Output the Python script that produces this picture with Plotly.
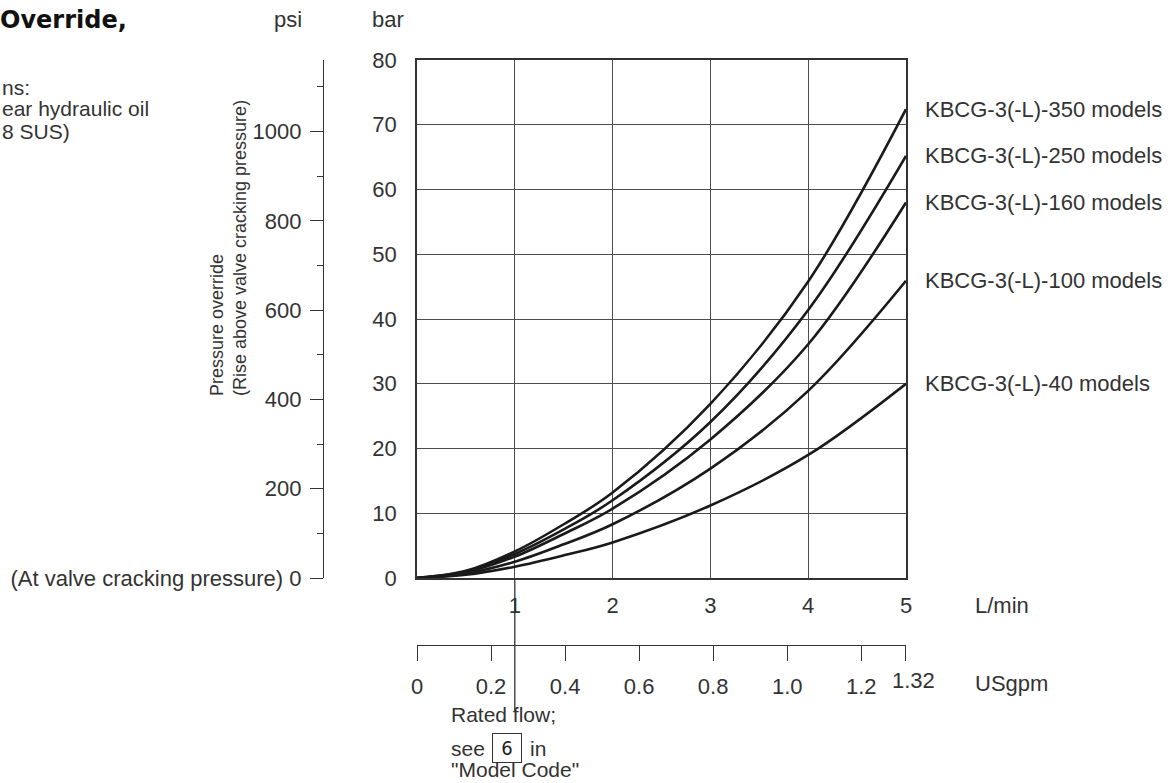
import plotly.graph_objects as go

# ---------------- data ----------------
FLOW_LPM = [0, 0.5, 1, 1.5, 2, 3, 4, 5]
P_350 = [0, 1.1, 4.1, 8.3, 13.2, 26.9, 45.8, 72.4]
P_250 = [0, 1.0, 3.7, 7.5, 12.0, 24.1, 41.4, 65.2]
P_160 = [0, 0.9, 3.3, 6.8, 10.7, 21.4, 36.1, 58.0]
P_100 = [0, 0.7, 2.5, 5.2, 8.3, 16.9, 28.9, 45.9]
P_40 = [0, 0.5, 1.75, 3.5, 5.5, 11.2, 19.0, 30.0]
SERIES = [
    ("KBCG-3(-L)-350 models", P_350),
    ("KBCG-3(-L)-250 models", P_250),
    ("KBCG-3(-L)-160 models", P_160),
    ("KBCG-3(-L)-100 models", P_100),
    ("KBCG-3(-L)-40 models", P_40),
]
LPM_TICKS = [1, 2, 3, 4, 5]
BAR_TICKS = [0, 10, 20, 30, 40, 50, 60, 70, 80]
PSI_TICKS = [0, 200, 400, 600, 800, 1000]
PSI_LABELS = ["(At valve cracking pressure) 0", "200", "400", "600", "800", "1000"]
GPM_TICKS = [0, 0.2, 0.4, 0.6, 0.8, 1.0, 1.2]
GPM_LABELS = ["0", "0.2", "0.4", "0.6", "0.8", "1.0", "1.2"]
GPM_END = 1.32
RATED_FLOW = 1
BAR_MAX = 80
LPM_MAX = 5
PSI_PER_BAR = 14.5038
LPM_PER_GPM = 3.78541

# ---------------- layout helpers ----------------
W, H = 1175, 783
def px_x(p):
    return p / W
def px_y(p):
    return (H - p) / H

FONT = "Liberation Sans, Arial, sans-serif"
TXT = "#333333"
LINE = "#333333"

fig = go.Figure()
for name, vals in SERIES:
    fig.add_trace(go.Scatter(
        x=FLOW_LPM, y=vals, mode="lines", name=name,
        line=dict(color="#1a1a1a", width=2.6, shape="spline", smoothing=1.0),
        hoverinfo="skip", showlegend=False,
    ))
    fig.add_annotation(
        x=FLOW_LPM[-1], y=vals[-1], xref="x", yref="y", text=name,
        showarrow=False, xanchor="left", yanchor="middle", xshift=17,
        font=dict(family=FONT, size=22, color=TXT),
    )

# empty trace so that the psi / USgpm scales form a drawn subplot
fig.add_trace(go.Scatter(x=[], y=[], xaxis="x2", yaxis="y2", showlegend=False,
                         hoverinfo="skip"))

x_dom = [px_x(417), px_x(906)]
y_dom = [px_y(578), px_y(60)]

fig.update_layout(
    template="none",
    width=W, height=H,
    margin=dict(l=0, r=0, t=0, b=0, pad=0, autoexpand=False),
    showlegend=False,
    paper_bgcolor="white", plot_bgcolor="white",
    font=dict(family=FONT, size=22, color=TXT),
    xaxis=dict(
        domain=x_dom, range=[0, LPM_MAX], tickvals=LPM_TICKS,
        showgrid=True, gridcolor="#4d4d4d", gridwidth=1,
        showline=True, linecolor=LINE, linewidth=1.5, mirror=True,
        zeroline=False, ticks="", ticklabelstandoff=7, automargin=False,
        tickfont=dict(family=FONT, size=22, color=TXT),
    ),
    yaxis=dict(
        domain=y_dom, range=[0, BAR_MAX], tickvals=BAR_TICKS,
        showgrid=True, gridcolor="#4d4d4d", gridwidth=1,
        showline=True, linecolor=LINE, linewidth=1.5, mirror=True,
        zeroline=False, ticks="", ticklabelstandoff=14, automargin=False,
        tickfont=dict(family=FONT, size=22, color=TXT),
    ),
    yaxis2=dict(
        overlaying="y", anchor="free", position=px_x(323), side="left",
        range=[0, BAR_MAX * PSI_PER_BAR], tickvals=PSI_TICKS, ticktext=PSI_LABELS,
        ticks="outside", ticklen=13, tickcolor=LINE, tickwidth=1.2,
        minor=dict(dtick=100, ticklen=6, ticks="outside", tickcolor=LINE, tickwidth=1.2),
        showline=True, linecolor=LINE, linewidth=1.2, automargin=False,
        showgrid=False, zeroline=False, ticklabelstandoff=4,
        tickfont=dict(family=FONT, size=22, color=TXT),
    ),
    xaxis2=dict(
        overlaying="x", anchor="free", position=px_y(645), side="bottom",
        range=[0, LPM_MAX / LPM_PER_GPM], tickvals=GPM_TICKS + [GPM_END],
        ticktext=GPM_LABELS + [""], automargin=False,
        ticks="outside", ticklen=15, tickcolor=LINE, tickwidth=1.2,
        showline=True, linecolor=LINE, linewidth=1.2,
        showgrid=False, zeroline=False, ticklabelstandoff=6,
        tickfont=dict(family=FONT, size=22, color=TXT),
    ),
)

# 1.32 label slightly offset to the right of its tick
fig.add_annotation(x=GPM_END, xref="x2", y=px_y(680), yref="paper", text="1.32",
                   showarrow=False, xanchor="center", yanchor="middle", xshift=8,
                   font=dict(family=FONT, size=22, color=TXT))

# rated-flow marker line
fig.add_shape(type="line", xref="x", yref="paper", x0=RATED_FLOW, x1=RATED_FLOW,
              y0=px_y(578), y1=px_y(711), line=dict(color=LINE, width=1.3))

def note(text, xp, yp, xanchor="left", size=22, color=TXT):
    fig.add_annotation(x=px_x(xp), y=px_y(yp), xref="paper", yref="paper", text=text,
                       showarrow=False, xanchor=xanchor, yanchor="middle",
                       font=dict(family=FONT, size=size, color=color))

# unit labels
note("psi", 288, 19, xanchor="center")
note("bar", 388, 19, xanchor="center")
note("L/min", 973, 605)
note("USgpm", 973, 683)

# rated flow text
note("Rated flow;", 449, 714, size=21)
note("see", 449, 748, size=21)
note("in", 528, 748, size=21)
note("\"Model Code\"", 449, 769, size=21)
fig.add_annotation(x=px_x(507), y=px_y(748), xref="paper", yref="paper", text="6",
                   showarrow=False, xanchor="center", yanchor="middle",
                   width=28, height=28, bordercolor=LINE, borderwidth=1, borderpad=0,
                   font=dict(family="Liberation Sans Narrow, DejaVu Sans Condensed, sans-serif",
                             size=20, color="#222222"))

# rotated axis title
fig.add_annotation(x=px_x(229), y=px_y(398), xref="paper", yref="paper",
                   text="Pressure override<br>(Rise above valve cracking pressure)",
                   showarrow=False, textangle=-90, xanchor="center", yanchor="bottom",
                   align="left", font=dict(family=FONT, size=18, color=TXT))

# title fragments at top-left
fig.add_annotation(x=0, y=px_y(20), xref="paper", yref="paper", text="<b>Override,</b>",
                   showarrow=False, xanchor="left", yanchor="middle", xshift=-2,
                   font=dict(family="DejaVu Sans, sans-serif", size=24, color="#111111"))
note("ns:", 0, 87, size=21)
note("ear hydraulic oil", 0, 109, size=21)
note("8 SUS)", 0, 132, size=21)

fig.write_html(
    "out.html",
    config={"displayModeBar": False},
    post_script="document.body.style.margin='0';document.body.style.padding='0';",
)
